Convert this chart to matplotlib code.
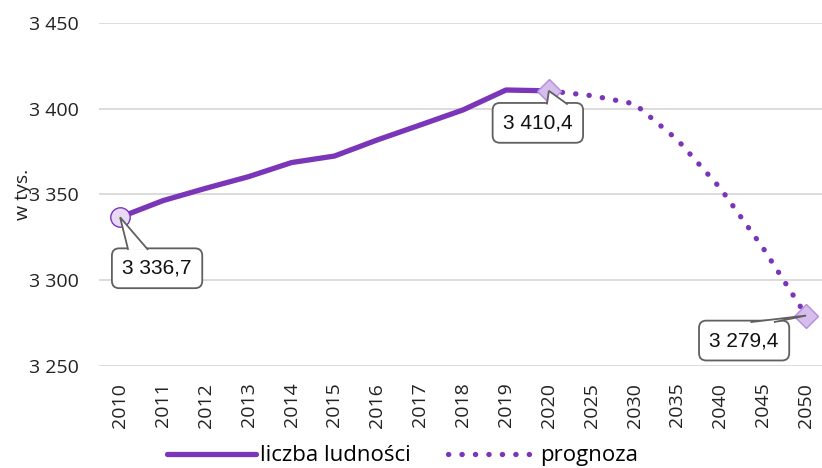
import matplotlib
matplotlib.use('Agg')
import matplotlib.pyplot as plt
from matplotlib.patches import Polygon
from matplotlib.transforms import IdentityTransform
import numpy as np

# dane (w tys.)
years = ['2010', '2011', '2012', '2013', '2014', '2015', '2016', '2017', '2018', '2019',
         '2020', '2025', '2030', '2035', '2040', '2045', '2050']
ludnosc = [3336.7, 3346.4, 3353.6, 3360.4, 3368.6, 3372.4, 3381.8, 3390.5, 3399.3, 3410.9, 3410.4]
prognoza = [3410.4, 3407.6, 3402.8, 3381.8, 3353.6, 3318.6, 3279.4]
yticks = [3250, 3300, 3350, 3400, 3450]

purple = '#7B35B8'
gray = '#606060'
plt.rcParams['font.family'] = ['Open Sans', 'DejaVu Sans']

fig = plt.figure(figsize=(8.22, 4.68), dpi=100)
ax = fig.add_axes([0.12, 0.218, 0.88, 0.733])

x = np.arange(len(years))
x_hist = x[:len(ludnosc)]
x_prog = x[len(ludnosc) - 1:]

ax.plot(x_hist, ludnosc, color=purple, lw=3.8, solid_capstyle='round',
        solid_joinstyle='round', label='liczba ludności', zorder=3)
ax.plot(x_prog, prognoza, color=purple, lw=3.8, linestyle=(0, (0.05, 2.5)),
        dash_capstyle='round', label='prognoza', zorder=3)

# markery na koncach
ax.plot(x_hist[0], ludnosc[0], 'o', ms=14, mfc='#E8DAF5', mec=purple, mew=1, zorder=4)
ax.plot(x_prog[0], prognoza[0], 'D', ms=12, mfc='#D5BDEC', mec='#B48BDD', mew=1, zorder=4)
ax.plot(x_prog[-1], prognoza[-1], 'D', ms=12, mfc='#D5BDEC', mec='#B48BDD', mew=1, zorder=4)

ax.set_ylim(3250, 3450)
ax.set_yticks(yticks)
ax.set_yticklabels([f'{v:,}'.replace(',', ' ') for v in yticks], fontsize=14, color='#222222')
ax.set_xlim(-0.5, 16.37)
ax.set_xticks(x)
ax.set_xticklabels(years, rotation=90, fontsize=14, color='#222222')
ax.tick_params(length=0)
ax.tick_params(axis='x', pad=12)
ax.tick_params(axis='y', pad=14)
ax.grid(axis='y', color='#D9D9D9', lw=1.3)
ax.set_axisbelow(True)
for s in ax.spines.values():
    s.set_visible(False)


def fmt(v):
    return f'{v:,.1f}'.replace(',', ' ').replace('.', ',')


# etykiety danych (dymki)
bbox = dict(boxstyle='round,pad=0.5,rounding_size=0.35', fc='white', ec=gray, lw=1.3)
labels = [(x_hist[0], ludnosc[0], (37, -51), (0.18, 0.40)),
          (x_prog[0], prognoza[0], (-11, -32), (0.60, 0.83)),
          (x_prog[-1], prognoza[-1], (-62, -25), (0.57, 0.83))]
texts = []
for xi, yi, off, base in labels:
    t = ax.annotate(fmt(yi), (xi, yi), xytext=off, textcoords='offset pixels',
                    ha='center', va='center', fontsize=15, family=['Liberation Sans', 'DejaVu Sans'],
                    color='#111111', bbox=bbox, zorder=5)
    texts.append((t, xi, yi, base))

fig.canvas.draw()
renderer = fig.canvas.get_renderer()
for t, xi, yi, base in texts:
    ext = t.get_bbox_patch().get_window_extent(renderer)
    tip = ax.transData.transform((xi, yi))
    top = ext.y1 - 1.5
    b0 = ext.x0 + base[0] * ext.width
    b1 = ext.x0 + base[1] * ext.width
    p = Polygon([(b0, top), tip, (b1, top)], closed=False, fc='white', ec=gray, lw=1.3,
                transform=IdentityTransform(), zorder=6, clip_on=False)
    ax.add_artist(p)

fig.text(0.028, 0.585, 'w tys.', rotation=90, fontsize=14, va='center', ha='center', color='#222222')

leg = fig.legend(loc='center', bbox_to_anchor=(0.49, 0.026), ncol=2, frameon=False,
                 fontsize=16, handlelength=4.0, columnspacing=1.7, handletextpad=0.15)

fig.savefig('out.png', dpi=100)
